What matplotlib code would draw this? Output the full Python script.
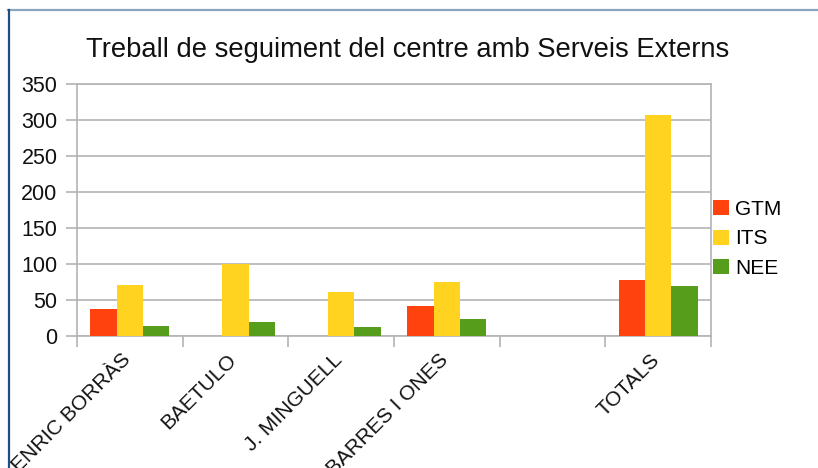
import numpy as np
import matplotlib
matplotlib.use("Agg")
import matplotlib.pyplot as plt
from matplotlib.lines import Line2D
from matplotlib.transforms import Bbox, ScaledTranslation

# Chart data
categories = ["ENRIC BORRÀS", "BAETULO", "J. MINGUELL", "BARRES I ONES", "", "TOTALS"]
gtm = [37, 0, 0, 41, 0, 78]
its = [71, 100, 61, 75, 0, 307]
nee = [14, 19, 13, 24, 0, 70]
series_names = ["GTM", "ITS", "NEE"]
y_ticks = [0, 50, 100, 150, 200, 250, 300, 350]

colors = ["#ff420e", "#ffd320", "#579d1c"]
grid_col = "#b3b3b3"

plt.rcParams["font.family"] = ["Liberation Sans", "DejaVu Sans"]

W, H = 818, 468
fig = plt.figure(figsize=(W / 100, H / 100), dpi=100)
ax = fig.add_axes([77 / W, (H - 336) / H, (711 - 77) / W, 252 / H])

x = np.arange(len(categories))
bw = 0.25
for i, (vals, name) in enumerate(zip([gtm, its, nee], series_names)):
    ax.bar(x + (i - 1) * bw, vals, width=bw, color=colors[i], label=name, zorder=3)

ax.set_xlim(-0.5, len(categories) - 0.5)
ax.set_ylim(0, 350)
ax.set_yticks(y_ticks)
ax.yaxis.grid(True, color=grid_col, linewidth=1.2, zorder=0)

# labels at category centres, tick marks at the boundaries
ax.set_xticks(x)
ax.set_xticklabels(categories, rotation=45, ha="right", va="top")
ax.set_xticks(np.arange(len(categories) + 1) - 0.5, minor=True)
ax.tick_params(axis="x", which="major", length=0, pad=10, labelsize=15, labelcolor="#111111")
ax.tick_params(axis="x", which="minor", length=8, width=1.2, color=grid_col)
ax.tick_params(axis="y", length=8, width=1.2, color=grid_col, pad=6, labelsize=15.5, labelcolor="#111111")

for s in ax.spines.values():
    s.set_color(grid_col)
    s.set_linewidth(1.2)

# the screenshot cuts the labels at the frame on the left
clip = Bbox.from_extents(9, 0, W, H - 11)
shift = ScaledTranslation(5 / 100, 0, fig.dpi_scale_trans)
for lab in ax.get_xticklabels():
    lab.set_transform(lab.get_transform() + shift)
    lab.set_clip_box(clip)
    lab.set_clip_on(True)

leg = ax.legend(loc="center left", bbox_to_anchor=(1.0, 0.385), frameon=False,
                fontsize=15, handlelength=0.75, handleheight=0.75,
                handletextpad=0.3, labelspacing=0.5, borderaxespad=0.1,
                borderpad=0)

fig.text(408 / W, (H - 57) / H, "Treball de seguiment del centre amb Serveis Externs",
         ha="center", va="baseline", fontsize=19.7, color="#111111")

# window frame lines
fig.add_artist(Line2D([8 / W, 1], [(H - 10) / H, (H - 10) / H], color="#8aa4c0", linewidth=1.6))
fig.add_artist(Line2D([8.5 / W, 8.5 / W], [0, (H - 10) / H], color="#1f4e85", linewidth=1.6))

fig.savefig("out.png", dpi=100)
